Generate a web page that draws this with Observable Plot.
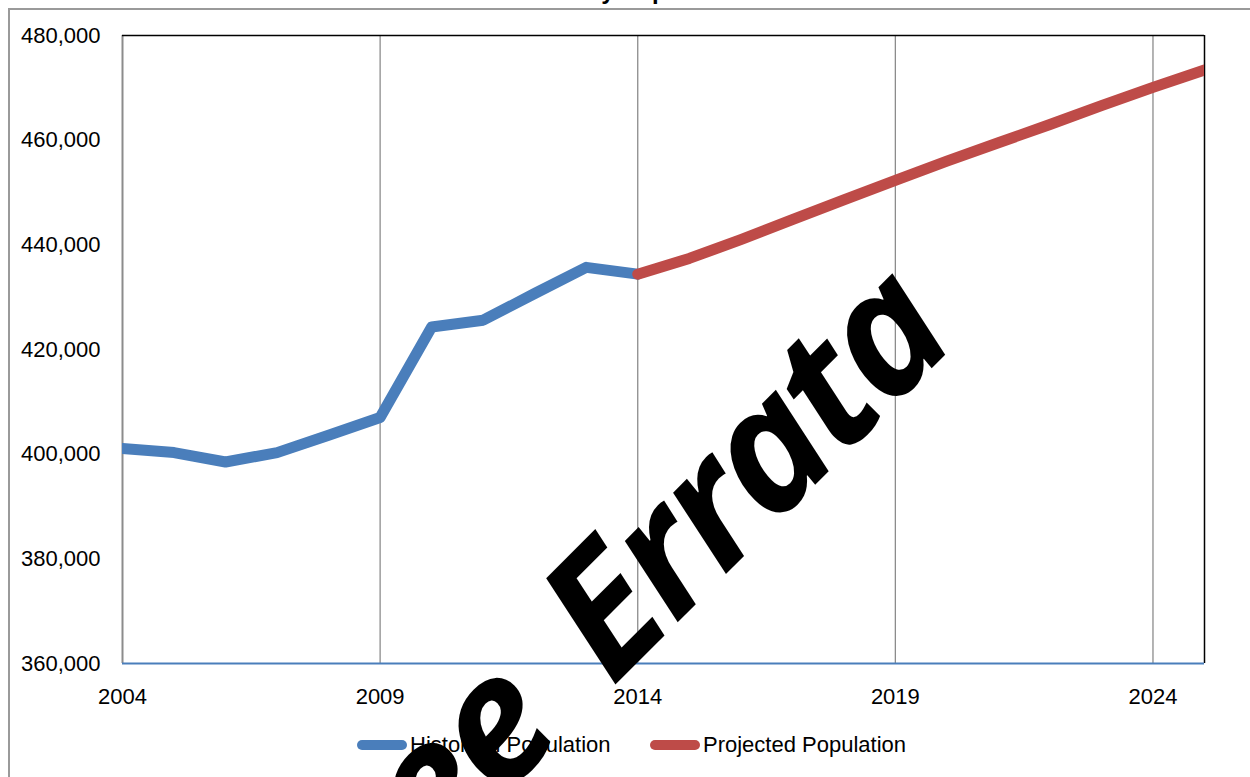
<!DOCTYPE html>
<html>
<head>
<meta charset="utf-8">
<script src="https://cdn.jsdelivr.net/npm/d3@7"></script>
<script src="https://cdn.jsdelivr.net/npm/@observablehq/plot@0.6"></script>
<style>
  html, body { margin: 0; padding: 0; background: #fff; overflow: hidden; }
  #wrap { position: relative; width: 1250px; height: 777px; overflow: hidden; background: #fff; }
  #frame { position: absolute; left: 8px; top: 8px; width: 1400px; height: 900px;
           border-left: 2px solid #9a9a9a; border-top: 2px solid #9a9a9a; }
  #chart { position: absolute; left: 0; top: 0; }
  #legend { position: absolute; top: 731px; left: 0; width: 1250px; height: 30px;
            font-family: "Liberation Sans", Arial, sans-serif; font-size: 22px; color: #000; }
  .item { position: absolute; top: 0; display: flex; align-items: center; height: 28px; }
  .sw { width: 50px; height: 10px; border-radius: 5px; margin-right: 3px; }
  #overlay { position: absolute; left: 0; top: 0; pointer-events: none; }
</style>
</head>
<body>
<div id="wrap">
  <div id="frame"></div>
  <div id="chart"></div>
  <div id="legend"></div>
  <svg id="overlay" width="1250" height="777"></svg>
</div>
<script>
// ---- data ----
const titleText = "County Population 2004 - 2025";
const seriesNames = ["Historical Population", "Projected Population"];
const seriesColors = ["#4a7ebb", "#be4b48"];

const historicalYears = [2004, 2005, 2006, 2007, 2008, 2009, 2010, 2011, 2012, 2013, 2014];
const historicalValues = [401100, 400300, 398500, 400300, 403600, 407000, 424300, 425600, 430700, 435700, 434400];

const projectedYears = [2014, 2015, 2016, 2017, 2018, 2019, 2020, 2021, 2022, 2023, 2024, 2025];
const projectedValues = [434400, 437400, 441000, 444800, 448600, 452300, 456000, 459500, 463000, 466600, 470100, 473400];

const xTicks = [2004, 2009, 2014, 2019, 2024];
const yTicks = [360000, 380000, 400000, 420000, 440000, 460000, 480000];
const watermarkText = "See Errata";

// ---- build tables ----
const hist = historicalYears.map((year, i) => ({year, value: historicalValues[i]}));
const proj = projectedYears.map((year, i) => ({year, value: projectedValues[i]}));

const chart = Plot.plot({
  width: 1250,
  height: 720,
  marginLeft: 122,
  marginRight: 46,
  marginTop: 35,
  marginBottom: 57,
  style: {fontFamily: "'Liberation Sans', Arial, sans-serif", fontSize: "22px", color: "#000", background: "transparent", overflow: "visible"},
  x: {domain: [2004, 2025]},
  y: {domain: [360000, 480000]},
  marks: [
    Plot.ruleX(xTicks.slice(1), {stroke: "#8c8c8c", strokeWidth: 1.3}),
    Plot.ruleX([2004], {stroke: "#8c8c8c", strokeWidth: 2}),
    Plot.ruleY([480000], {stroke: "#000", strokeWidth: 1.5}),
    Plot.ruleX([2025], {stroke: "#000", strokeWidth: 1.5}),
    Plot.ruleY([360000], {stroke: seriesColors[0], strokeWidth: 2}),
    Plot.line(hist, {x: "year", y: "value", stroke: seriesColors[0], strokeWidth: 11,
      strokeLinejoin: "round", strokeLinecap: "round", clip: true}),
    Plot.line(proj, {x: "year", y: "value", stroke: seriesColors[1], strokeWidth: 11,
      strokeLinejoin: "round", strokeLinecap: "round", clip: true}),
    Plot.axisX({ticks: xTicks, tickFormat: d => String(d), tickSize: 0, tickPadding: 25, label: null}),
    Plot.axisY({ticks: yTicks, tickFormat: d3.format(","), tickSize: 0, tickPadding: 22, label: null})
  ]
});
document.getElementById("chart").appendChild(chart);

// ---- legend ----
const legend = document.getElementById("legend");
const legendX = [357, 650];
seriesNames.forEach((name, i) => {
  const item = document.createElement("div");
  item.className = "item";
  item.style.left = legendX[i] + "px";
  const sw = document.createElement("div");
  sw.className = "sw";
  sw.style.background = seriesColors[i];
  const label = document.createElement("span");
  label.textContent = name;
  item.appendChild(sw);
  item.appendChild(label);
  legend.appendChild(item);
});

// ---- overlay: clipped title and watermark ----
const ov = d3.select("#overlay");
ov.append("text")
  .attr("x", 532).attr("y", -1)
  .attr("font-family", "'Liberation Sans', Arial, sans-serif")
  .attr("font-weight", "bold").attr("font-size", 24)
  .text(titleText);
ov.append("text")
  .attr("x", 958).attr("y", 342)
  .attr("text-anchor", "end")
  .attr("transform", "rotate(-45 958 342)")
  .attr("font-family", "'Open Sans', 'Noto Sans', sans-serif")
  .attr("font-weight", 700).attr("font-style", "italic")
  .attr("font-size", 174)
  .attr("letter-spacing", -5)
  .attr("word-spacing", 28)
  .attr("fill", "#000")
  .text(watermarkText);
</script>
</body>
</html>
